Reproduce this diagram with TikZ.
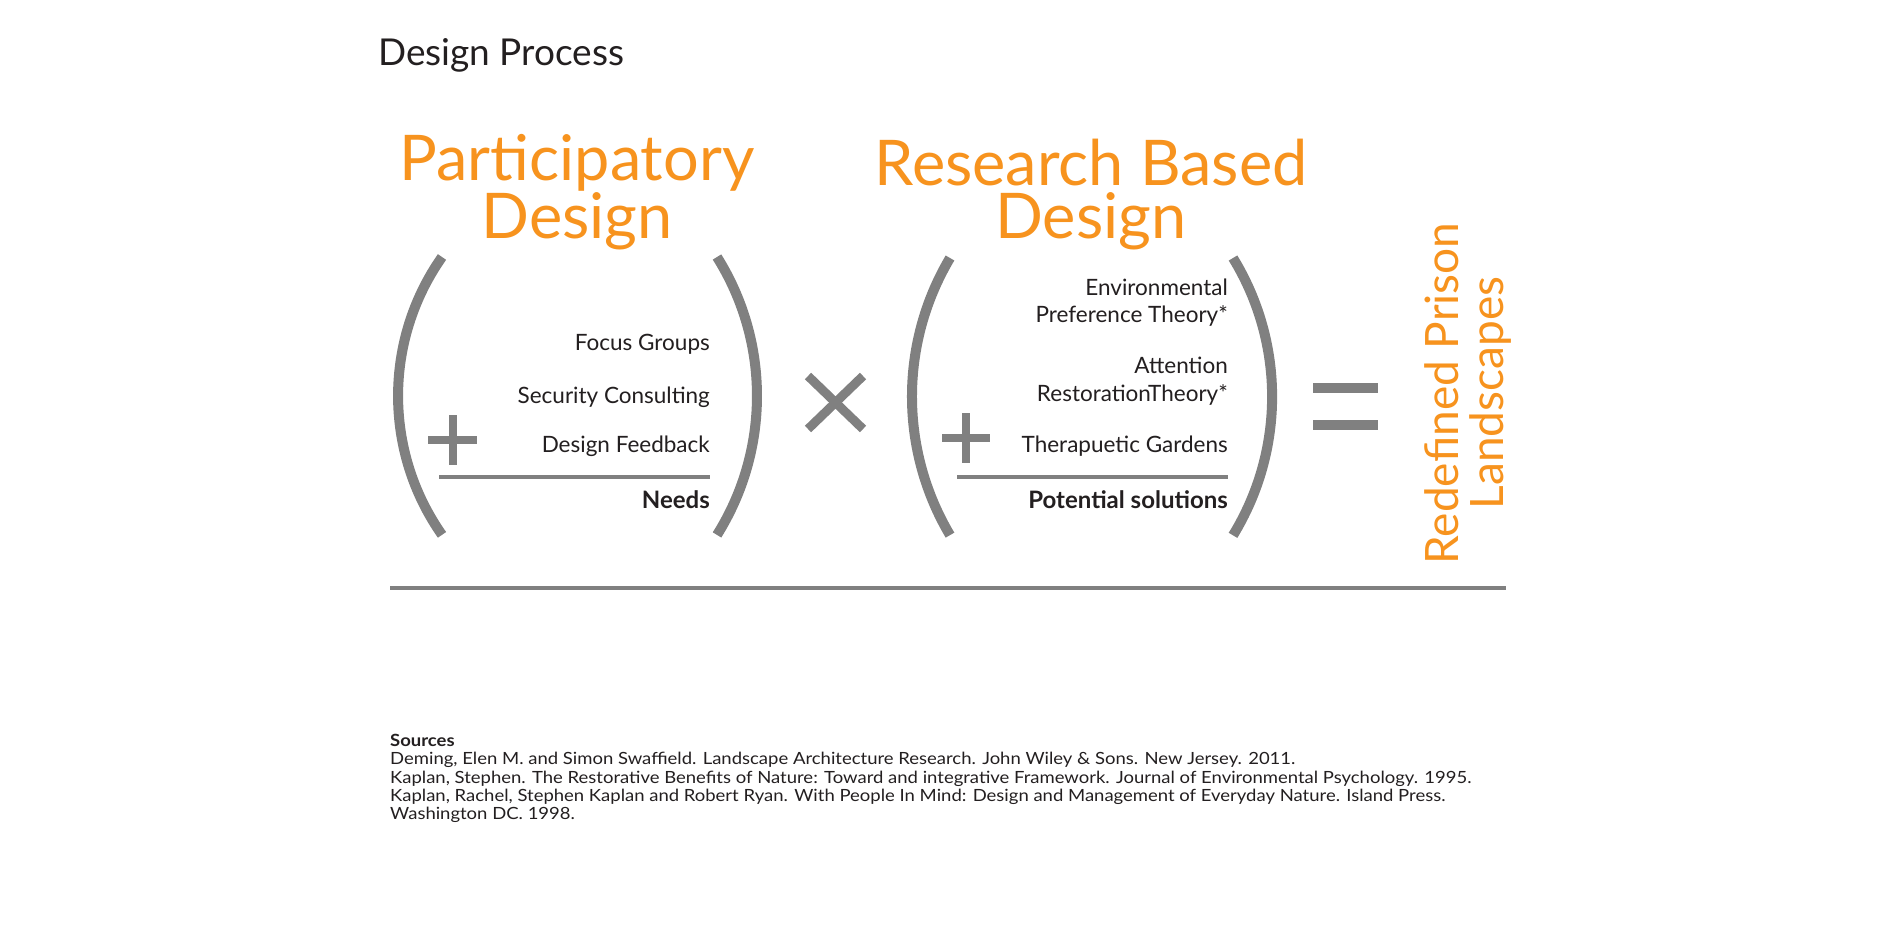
\documentclass[tikz,border=0pt]{standalone}
\usepackage{fontspec}
\setmainfont{Lato}
\newfontfamily\srcfont[FakeStretch=1.1]{Lato}
\definecolor{orng}{HTML}{F7931E}
\definecolor{gry}{HTML}{808080}
\definecolor{ink}{HTML}{231F20}
\tikzset{
  paren/.style={draw=gry, line width=10pt, line cap=butt},
  rule/.style={draw=gry, line width=4.5pt},
  opbar/.style={draw=gry, line width=8pt},
  title/.style={text=orng, inner sep=0pt, align=center, font=\fontsize{63}{53}\selectfont},
  item/.style={text=ink, inner sep=0pt, anchor=base east, font=\fontsize{22.5}{26}\selectfont},
  itembold/.style={text=ink, inner sep=0pt, anchor=base east, font=\fontsize{24}{26}\selectfont\bfseries},
  src/.style={text=ink, inner sep=0pt, anchor=base west, font=\srcfont\fontsize{16.8}{18}\selectfont},
  side/.style={text=orng, inner sep=0pt, anchor=base, rotate=90, font=\fontsize{46}{46}\selectfont},
}
\begin{document}
\begin{tikzpicture}[x=1pt,y=-1pt]
\useasboundingbox (0,0) rectangle (1900,927);
\fill[white] (0,0) rectangle (1900,927);
% heading
\node[text=ink, inner sep=0pt, anchor=base west, font=\fontsize{37}{37}\selectfont] (head) at (378,65) {Design Process};
% titles (anchor base = baseline of the last line)
\node[title, anchor=base] (pd) at (577,238) {Participatory\\Design};
\node[title, anchor=base] (rb) at (1091,238) {Research Based\\Design};
% group 1
\draw[paren] (442,257) arc[start angle=215.1, end angle=144.9, radius=241.6];
\draw[paren] (717,257) arc[start angle=-32.1, end angle=32.1, radius=261.5];
\node[item] (fg) at (710,350) {Focus Groups};
\node[item] (sc) at (710,403) {Security Consulting};
\node[item] (df) at (710,452) {Design Feedback};
\draw[opbar] (428,440) -- (477,440);
\draw[opbar] (453,415) -- (453,465);
\draw[rule] (439,477) -- (710,477);
\node[itembold] (needs) at (710,508) {Needs};
% times
\draw[gry, line width=9pt] (808,376) -- (863,429);
\draw[gry, line width=9pt] (808,429) -- (863,376);
% group 2
\draw[paren] (950,258) arc[start angle=210.7, end angle=149.3, radius=271.4];
\draw[paren] (1233,258) arc[start angle=-31.5, end angle=31.5, radius=265.4];
\node[item, text depth=0pt] (ep1) at (1228,295) {Environmental};
\node[item] (ep2) at (1228,322) {Preference Theory*};
\node[item, text depth=0pt] (ar1) at (1228,373) {Attention};
\node[item] (ar2) at (1228,401) {RestorationTheory*};
\node[item] (tg) at (1228,452) {Therapuetic Gardens};
\draw[opbar] (942,438) -- (990,438);
\draw[opbar] (966,413) -- (966,463);
\draw[rule] (957,477) -- (1228,477);
\node[itembold] (ps) at (1228,508) {Potential solutions};
% equals
\draw[gry, line width=10pt] (1313,388) -- (1378,388);
\draw[gry, line width=10pt] (1313,425) -- (1378,425);
% result
\node[side] (rp) at (1458,393.5) {Redefined Prison};
\node[side] (ls) at (1503,393) {Landscapes};
% bottom rule
\draw[rule] (390,588) -- (1506,588);
% sources
\node[src, font=\srcfont\fontsize{16.8}{18}\selectfont\bfseries] (s0) at (390,746) {Sources};
\node[src] (s1) at (390,764.5) {Deming, Elen M. and Simon Swaffield. Landscape Architecture Research. John Wiley \& Sons. New Jersey. 2011.};
\node[src] (s2) at (390,783) {Kaplan, Stephen. The Restorative Benefits of Nature: Toward and integrative Framework. Journal of Environmental Psychology. 1995.};
\node[src] (s3) at (390,801) {Kaplan, Rachel, Stephen Kaplan and Robert Ryan. With People In Mind: Design and Management of Everyday Nature. Island Press.};
\node[src] (s4) at (390,819) {Washington DC. 1998.};
\end{tikzpicture}
\end{document}
